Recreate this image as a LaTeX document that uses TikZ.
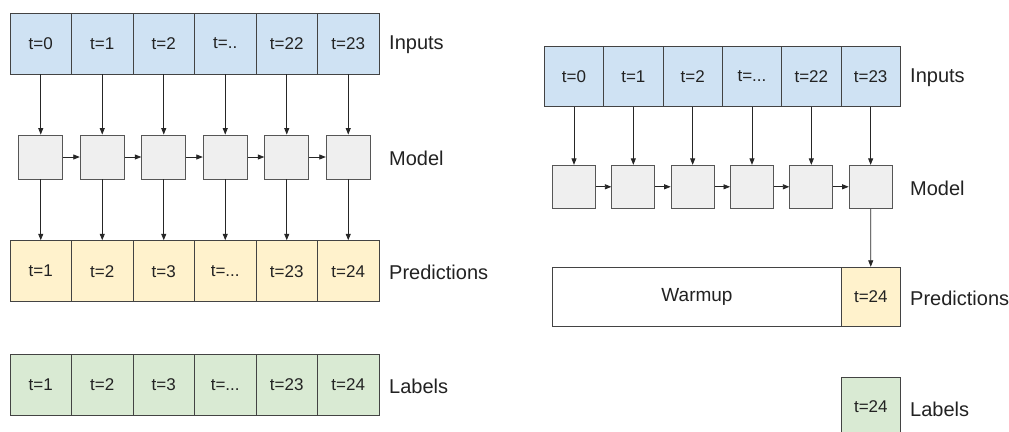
\documentclass[tikz,border=0pt]{standalone}
\usepackage{fontspec}
\setmainfont{Liberation Sans}
\usetikzlibrary{arrows.meta}
\definecolor{inblue}{HTML}{CFE2F3}
\definecolor{predyellow}{HTML}{FFF2CC}
\definecolor{labgreen}{HTML}{D9EAD3}
\definecolor{modelgray}{HTML}{EFEFEF}
\definecolor{edgegray}{HTML}{434343}
\definecolor{txt}{HTML}{222222}
\newcommand{\dotsA}{t=..}
\newcommand{\dotsB}{t=...}
\tikzset{
  cellbase/.style={draw=edgegray, line width=0.9pt, inner sep=0pt, text=txt,
    font=\fontsize{17}{19}\selectfont},
  lcell/.style={cellbase, minimum width=61.5pt, minimum height=61pt},
  rcell/.style={cellbase, minimum width=59.3pt, minimum height=59.5pt},
  inp/.style={fill=inblue},
  pred/.style={fill=predyellow},
  lab/.style={fill=labgreen},
  modelbox/.style={draw=edgegray!90, fill=modelgray, line width=0.9pt, inner sep=0pt},
  rowlabel/.style={anchor=west, inner sep=0pt, text=txt, font=\fontsize{20}{22}\selectfont},
  flow/.style={draw=black!85, line width=0.8pt, -{Triangle[length=6.5pt,width=5pt]}}
}
\begin{document}
\begin{tikzpicture}[x=1pt, y=-1pt]
\clip (0,0) rectangle (1009,431);
\fill[white] (0,0) rectangle (1009,431);

% ---------- left panel: prediction at every step ----------
\foreach \i/\a/\p in {0/t=0/t=1, 1/t=1/t=2, 2/t=2/t=3, 3/\dotsA/\dotsB, 4/t=22/t=23, 5/t=23/t=24} {
  \pgfmathsetmacro{\cx}{40.75+61.5*\i}
  \node[lcell, inp]  (li\i) at (\cx, 43.5)  {\a};
  \node[modelbox, minimum size=44pt] (lm\i) at (\cx, 157) {};
  \node[lcell, pred] (lp\i) at (\cx, 271.2) {\p};
  \node[lcell, lab]  (ll\i) at (\cx, 385)   {\p};
  \draw[flow] (li\i) -- (lm\i);
  \draw[flow] (lm\i) -- (lp\i);
}
\foreach \i [evaluate=\i as \j using int(\i+1)] in {0,1,2,3,4} {
  \draw[flow] (lm\i) -- (lm\j);
}
\node[rowlabel] (lin)  at (389, 45)  {Inputs};
\node[rowlabel] (lmod) at (389, 158) {Model};
\node[rowlabel] (lpr)  at (389, 272) {Predictions};
\node[rowlabel] (llb)  at (389, 386) {Labels};

% ---------- right panel: warmup, single prediction ----------
\foreach \i/\a in {0/t=0, 1/t=1, 2/t=2, 3/\dotsB, 4/t=22, 5/t=23} {
  \pgfmathsetmacro{\cx}{574+59.33*\i}
  \node[rcell, inp] (ri\i) at (\cx, 76.5) {\a};
  \node[modelbox, minimum size=43pt] (rm\i) at (\cx, 186.8) {};
  \draw[flow] (ri\i) -- (rm\i);
}
\foreach \i [evaluate=\i as \j using int(\i+1)] in {0,1,2,3,4} {
  \draw[flow] (rm\i) -- (rm\j);
}
\node[cellbase, fill=white, minimum width=288.6pt, minimum height=59.4pt,
      font=\fontsize{19}{21}\selectfont] (warm) at (697, 297) {Warmup};
\node[rcell, pred] (rp) at (870.8, 297) {t=24};
\node[rcell, lab]  (rl) at (870.8, 406.7) {t=24};
\draw[flow] (rm5) -- (rp);
\node[rowlabel] (rin)  at (910, 78)  {Inputs};
\node[rowlabel] (rmod) at (910, 188) {Model};
\node[rowlabel] (rpr)  at (910, 298) {Predictions};
\node[rowlabel] (rlb)  at (910, 409) {Labels};
\end{tikzpicture}
\end{document}
